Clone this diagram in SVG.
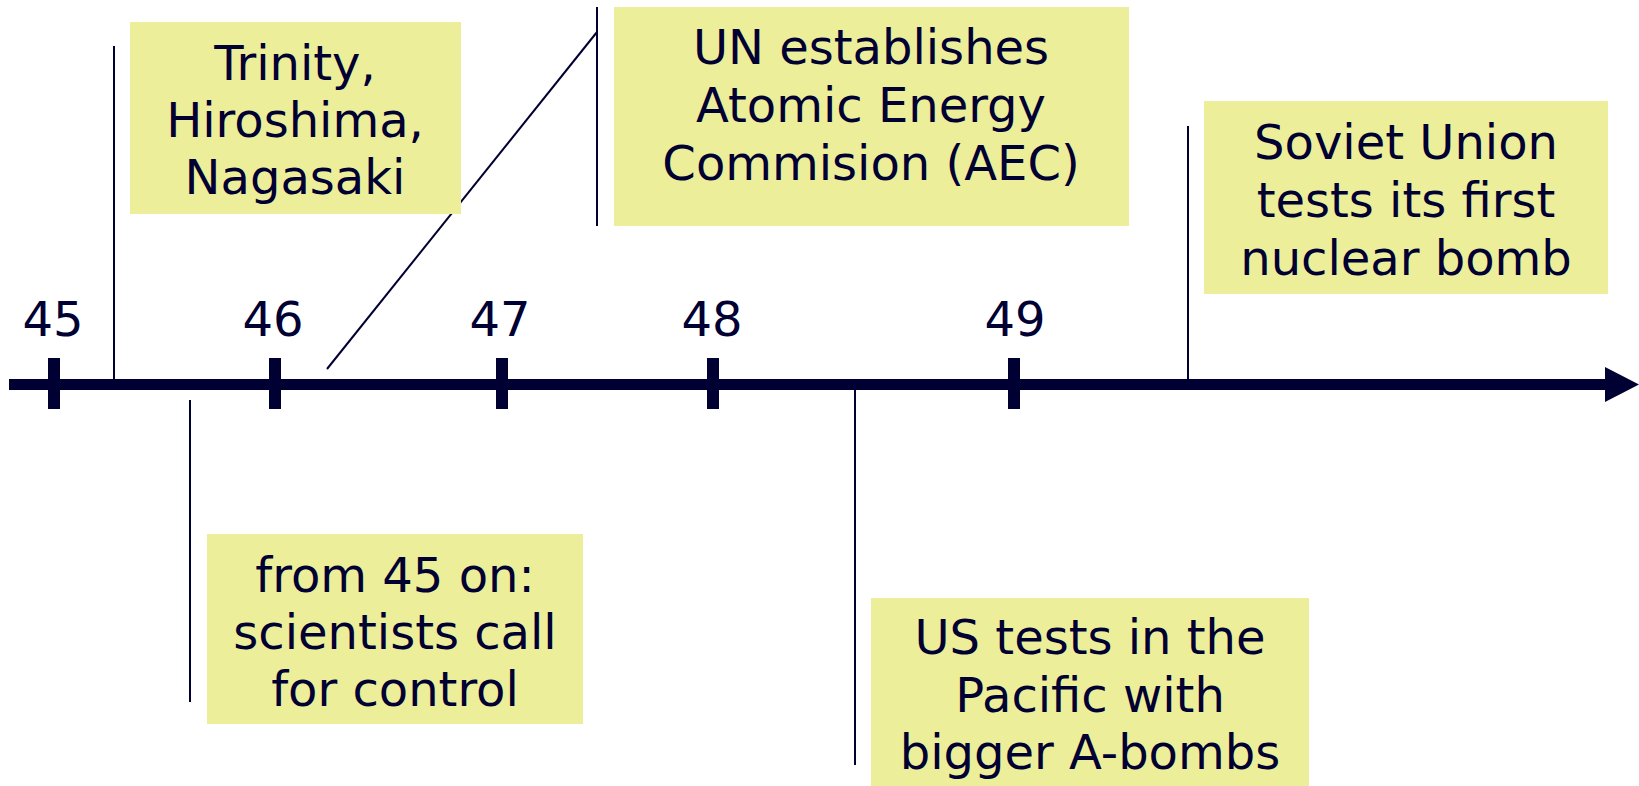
<svg xmlns="http://www.w3.org/2000/svg" width="1639" height="786" viewBox="0 0 1639 786">
<style>
.box{fill:#EDEE99}
.t{font-family:"DejaVu Sans","Verdana",sans-serif;font-size:48px;fill:#000033;text-anchor:middle}
.c{stroke:#000033;stroke-width:2;fill:none}
.tick{fill:#000033}
</style>
<rect width="1639" height="786" fill="#ffffff"/>
<g id="axis">
<line x1="9" y1="384.5" x2="1608" y2="384.5" stroke="#000033" stroke-width="11"/>
<polygon points="1605,367 1639,384.5 1605,402" fill="#000033"/>
<rect class="tick" x="48" y="358" width="12" height="51"/>
<rect class="tick" x="269" y="358" width="12" height="51"/>
<rect class="tick" x="496" y="358" width="12" height="51"/>
<rect class="tick" x="707" y="358" width="12" height="51"/>
<rect class="tick" x="1008" y="358" width="12" height="51"/>
<text class="t" x="53" y="336">45</text>
<text class="t" x="273" y="336">46</text>
<text class="t" x="500" y="336">47</text>
<text class="t" x="712" y="336">48</text>
<text class="t" x="1015" y="336">49</text>
</g>
<g id="connectors">
<line class="c" x1="114" y1="46" x2="114" y2="379"/>
<line class="c" x1="190" y1="400" x2="190" y2="702"/>
<line class="c" x1="327" y1="369" x2="597" y2="32"/>
<line class="c" x1="597" y1="7" x2="597" y2="226"/>
<line class="c" x1="855" y1="390" x2="855" y2="765"/>
<line class="c" x1="1188" y1="126" x2="1188" y2="379"/>
</g>
<g id="trinity">
<rect class="box" x="130" y="22" width="331" height="192"/>
<text class="t" x="295" y="80">Trinity,</text>
<text class="t" x="295" y="137">Hiroshima,</text>
<text class="t" x="295" y="194">Nagasaki</text>
</g>
<g id="un">
<rect class="box" x="614" y="7" width="515" height="219"/>
<text class="t" x="871" y="64">UN establishes</text>
<text class="t" x="871" y="122">Atomic Energy</text>
<text class="t" x="871" y="180">Commision (AEC)</text>
</g>
<g id="soviet">
<rect class="box" x="1204" y="101" width="404" height="193"/>
<text class="t" x="1406" y="159">Soviet Union</text>
<text class="t" x="1406" y="217">tests its first</text>
<text class="t" x="1406" y="275">nuclear bomb</text>
</g>
<g id="scientists">
<rect class="box" x="207" y="534" width="376" height="190"/>
<text class="t" x="395" y="592">from 45 on:</text>
<text class="t" x="395" y="649">scientists call</text>
<text class="t" x="395" y="706">for control</text>
</g>
<g id="ustests">
<rect class="box" x="871" y="598" width="438" height="188"/>
<text class="t" x="1090" y="654">US tests in the</text>
<text class="t" x="1090" y="712">Pacific with</text>
<text class="t" x="1090" y="769">bigger A-bombs</text>
</g>
</svg>
